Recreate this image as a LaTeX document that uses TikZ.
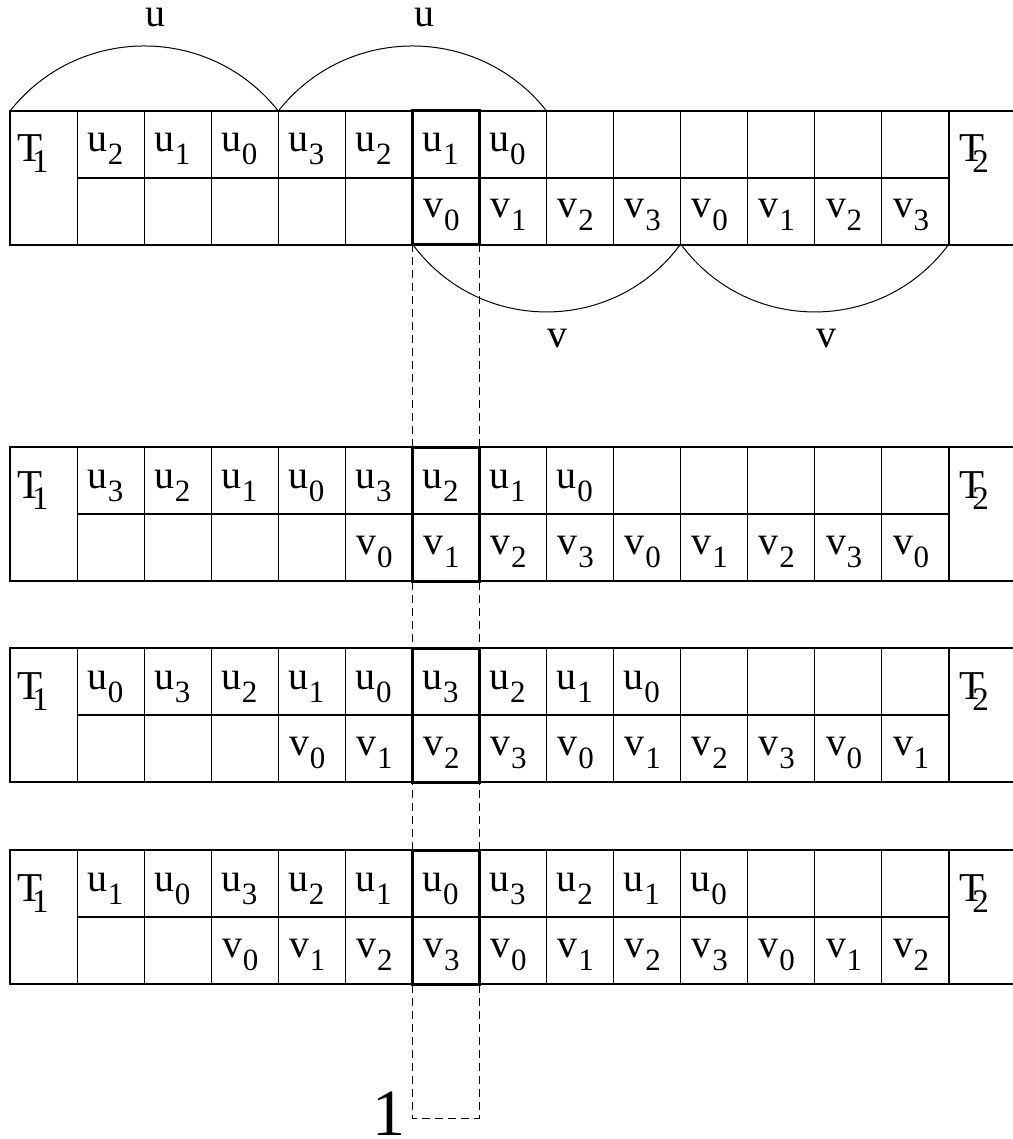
\documentclass[tikz,border=0pt]{standalone}
\usepackage{fontspec}
\setmainfont{Liberation Serif}
\newcommand{\cellsub}[2]{#1\kern0.5pt\raisebox{-13pt}{\fontsize{31}{31}\selectfont #2}}
\newcommand{\tsub}[2]{T\kern#2\raisebox{-11pt}{\fontsize{33}{33}\selectfont #1}}
\tikzset{
  grid/.style={line width=1.1pt, line cap=rect},
  boldbox/.style={line width=3pt},
  guide/.style={line width=1pt, dash pattern=on 8pt off 5pt},
  celltext/.style={anchor=base west, inner sep=0pt, font=\fontsize{40}{48}\selectfont},
  tlabel/.style={anchor=base west, inner sep=0pt, font=\fontsize{41}{48}\selectfont},
  lbl/.style={anchor=base, inner sep=0pt, font=\fontsize{40}{48}\selectfont},
}
\begin{document}
\begin{tikzpicture}[x=1pt, y=-1pt]
\useasboundingbox (0,0) rectangle (1012,1139);

% dashed guide column
\coordinate (gtl) at (412.4,244);
\coordinate (gtr) at (479.5,244);
\coordinate (gbl) at (412.4,1118);
\coordinate (gbr) at (479.5,1118);
\draw[guide] (gtl) -- (gbl) -- (gbr) -- (gtr);

% the four strips
\foreach \r/\t in {1/111, 2/447, 3/648, 4/850} {
  \pgfmathsetmacro{\m}{\t+67}
  \pgfmathsetmacro{\b}{\t+134}
  \draw[grid] (10,\t) -- (1012,\t);
  \draw[grid] (10,\b) -- (1012,\b);
  \draw[grid] (77.07,\m) -- (948.98,\m);
  \draw[grid] (10,\t) -- (10,\b);
  \draw[line width=2.5pt] (10,\m) -- (10,\m+16);
  \foreach \c in {1,...,14} {
    \draw[grid] ({10+67.07*\c},\t) -- ({10+67.07*\c},\b);
  }
  \draw[boldbox] (412.4,\t) rectangle (479.5,\b);
  \node[tlabel] (T1r\r) at (17,\t+51) {\tsub{1}{-10pt}};
  \node[tlabel] (T2r\r) at (959,\t+51) {\tsub{2}{-12pt}};
}

% row 1
\foreach \v [count=\k] in {2,1,0,3,2,1,0}
  \node[celltext] (r1u\k) at ({20+67.07*\k},152) {\cellsub{u}{\v}};
\foreach \v [count=\k from 6] in {0,1,2,3,0,1,2,3}
  \node[celltext] (r1v\k) at ({21+67.07*\k},218) {\cellsub{v}{\v}};
% row 2
\foreach \v [count=\k] in {3,2,1,0,3,2,1,0}
  \node[celltext] (r2u\k) at ({20+67.07*\k},488) {\cellsub{u}{\v}};
\foreach \v [count=\k from 5] in {0,1,2,3,0,1,2,3,0}
  \node[celltext] (r2v\k) at ({21+67.07*\k},554) {\cellsub{v}{\v}};
% row 3
\foreach \v [count=\k] in {0,3,2,1,0,3,2,1,0}
  \node[celltext] (r3u\k) at ({20+67.07*\k},689) {\cellsub{u}{\v}};
\foreach \v [count=\k from 4] in {0,1,2,3,0,1,2,3,0,1}
  \node[celltext] (r3v\k) at ({21+67.07*\k},755) {\cellsub{v}{\v}};
% row 4
\foreach \v [count=\k] in {1,0,3,2,1,0,3,2,1,0}
  \node[celltext] (r4u\k) at ({20+67.07*\k},891) {\cellsub{u}{\v}};
\foreach \v [count=\k from 3] in {0,1,2,3,0,1,2,3,0,1,2}
  \node[celltext] (r4v\k) at ({21+67.07*\k},957) {\cellsub{v}{\v}};

% arcs
\coordinate (ua) at (10,111);
\coordinate (ub) at (278.3,111);
\coordinate (uc) at (546.6,111);
\coordinate (va) at (412.4,244);
\coordinate (vb) at (680.7,244);
\coordinate (vc) at (949,244);
\draw[line width=1pt] (ua) .. controls (78.4,24.3) and (209.9,24.3) .. (ub);
\draw[line width=1pt] (ub) .. controls (346.7,24.3) and (478.2,24.3) .. (uc);
\draw[line width=1pt] (va) .. controls (479,334.6) and (614.1,334.6) .. (vb);
\draw[line width=1pt] (vb) .. controls (747.3,334.6) and (882.4,334.6) .. (vc);

\node[lbl] (ul1) at (155,27) {u};
\node[lbl] (ul2) at (424,27) {u};
\node[lbl] (vl1) at (557,347) {v};
\node[lbl] (vl2) at (826,347) {v};
\node[anchor=base, inner sep=0pt, font=\fontsize{66}{70}\selectfont] (one) at (389,1135) {1};
\end{tikzpicture}
\end{document}
